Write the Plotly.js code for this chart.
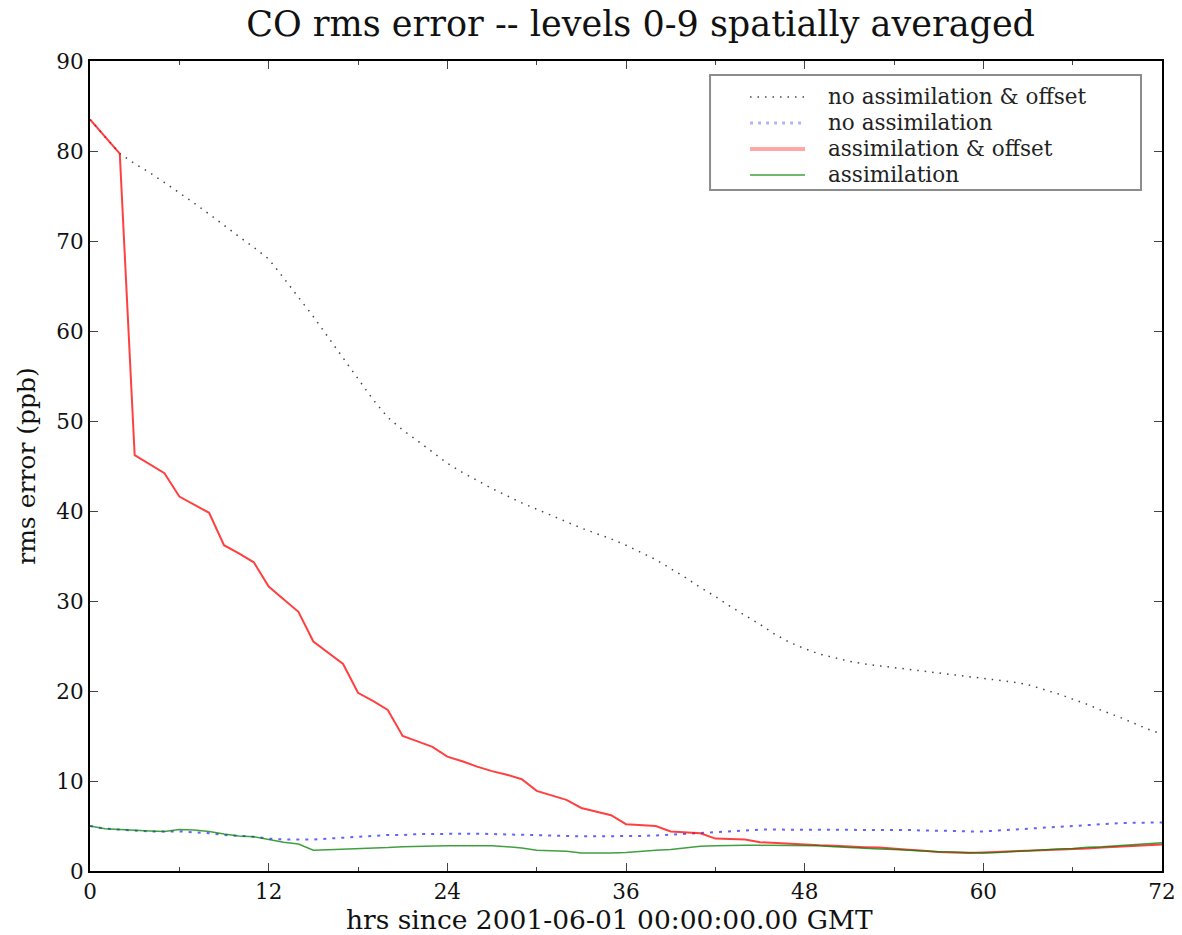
<!DOCTYPE html>
<html>
<head>
<meta charset="utf-8">
<script src="https://cdn.plot.ly/plotly-3.0.1.min.js"></script>
<style>html,body{margin:0;padding:0;background:#fff;}#chart{width:1182px;height:935px;}</style>
</head>
<body>
<div id="chart"></div>
<script>
const hours = Array.from({length: 73}, (_, i) => i);

const noAssimOffset = [83.5,81.6,79.7,78.6,77.6,76.5,75.4,74.2,73.0,71.7,70.5,69.3,68.0,65.9,63.8,61.6,59.3,57.0,54.7,52.4,50.4,49.0,47.8,46.5,45.3,44.3,43.4,42.5,41.7,40.9,40.2,39.5,38.8,38.1,37.5,36.9,36.2,35.4,34.6,33.6,32.6,31.5,30.5,29.4,28.4,27.4,26.3,25.4,24.7,24.1,23.7,23.3,23.0,22.8,22.6,22.4,22.2,22.0,21.8,21.6,21.4,21.2,21.0,20.7,20.2,19.7,19.1,18.5,17.8,17.2,16.5,15.8,15.2];

const noAssim = [5.0,4.7,4.6,4.5,4.4,4.4,4.4,4.3,4.2,4.0,3.9,3.8,3.6,3.5,3.5,3.5,3.6,3.7,3.8,3.9,4.0,4.0,4.1,4.1,4.15,4.15,4.15,4.1,4.1,4.0,4.0,3.95,3.9,3.85,3.85,3.85,3.85,3.9,3.95,4.05,4.15,4.25,4.35,4.45,4.55,4.6,4.6,4.6,4.6,4.6,4.6,4.6,4.6,4.6,4.6,4.55,4.5,4.5,4.45,4.4,4.4,4.5,4.6,4.7,4.85,4.95,5.05,5.15,5.2,5.3,5.35,5.4,5.4];

const assimOffset = [83.5,81.6,79.7,46.2,45.2,44.2,41.6,40.7,39.8,36.2,35.3,34.3,31.6,30.2,28.8,25.5,24.3,23.0,19.8,18.9,17.9,15.0,14.4,13.8,12.7,12.2,11.6,11.1,10.7,10.2,8.9,8.4,7.9,7.0,6.6,6.2,5.2,5.1,5.0,4.4,4.3,4.2,3.6,3.55,3.5,3.2,3.1,3.0,2.9,2.85,2.8,2.7,2.65,2.6,2.45,2.35,2.25,2.1,2.05,2.0,2.05,2.15,2.2,2.25,2.3,2.35,2.4,2.5,2.6,2.7,2.75,2.85,2.95];

const assim = [5.0,4.7,4.6,4.5,4.45,4.4,4.6,4.55,4.4,4.1,3.9,3.8,3.5,3.2,3.0,2.3,2.35,2.4,2.45,2.55,2.6,2.7,2.75,2.8,2.8,2.8,2.8,2.8,2.7,2.55,2.3,2.25,2.2,2.0,1.98,2.0,2.05,2.2,2.3,2.4,2.6,2.75,2.8,2.85,2.85,2.85,2.85,2.85,2.85,2.8,2.7,2.6,2.55,2.45,2.4,2.3,2.25,2.15,2.1,2.05,2.0,2.05,2.15,2.3,2.4,2.45,2.5,2.65,2.7,2.8,2.9,3.0,3.15];

const seriesNames = ['no assimilation & offset', 'no assimilation', 'assimilation & offset', 'assimilation'];
const xTicks = [0,12,24,36,48,60,72];
const yTicks = [0,10,20,30,40,50,60,70,80,90];
const xTitle = 'hrs since 2001-06-01 00:00:00.00 GMT';

const serif = '"DejaVu Serif", serif';

const styles = [
  {color: '#444444', width: 1.5, dash: '1.5px,6px'},
  {color: 'rgba(70,70,255,0.85)', width: 2, dash: '3px,6px'},
  {color: 'rgba(255,0,0,0.75)', width: 2},
  {color: 'rgba(0,128,0,0.75)', width: 1.5}
];
const legendStyles = [
  {color: '#444444', width: 1.5, dash: '1.5px,6px'},
  {color: 'rgba(90,90,255,0.45)', width: 3, dash: '3px,5px'},
  {color: 'rgba(255,0,0,0.35)', width: 4},
  {color: 'rgba(0,128,0,0.75)', width: 1.5}
];
const seriesY = [noAssimOffset, noAssim, assimOffset, assim];

const traces = seriesY.map((ys, i) => ({
  x: hours, y: ys, mode: 'lines', name: seriesNames[i], line: styles[i], showlegend: false
}));

// manual legend (paper coordinates)
const legBox = {x0: 0.5784, x1: 0.9804, y0: 0.8407, y1: 0.9827};
const legRows = [0.9556, 0.9235, 0.8914, 0.8593];
const shapes = [{type: 'rect', xref: 'paper', yref: 'paper', x0: legBox.x0, x1: legBox.x1, y0: legBox.y0, y1: legBox.y1,
                 line: {color: '#8c8c8c', width: 2}, fillcolor: '#fff', layer: 'above'}];
const annotations = [];
legRows.forEach((ry, i) => {
  shapes.push({type: 'line', xref: 'paper', yref: 'paper', x0: 0.6157, x1: 0.6670, y0: ry, y1: ry,
               line: legendStyles[i], layer: 'above'});
  annotations.push({xref: 'paper', yref: 'paper', x: 0.6875, y: ry, xanchor: 'left', yanchor: 'middle',
                    text: seriesNames[i].replace('&', '&amp;'), showarrow: false, borderpad: 0,
                    font: {family: serif, size: 21.5, color: '#222'}});
});
annotations.push({xref: 'paper', yref: 'paper', x: 0.485, y: -0.0395, xanchor: 'center', yanchor: 'top',
                  text: xTitle, showarrow: false, borderpad: 0,
                  font: {family: serif, size: 26.5, color: '#111'}});

const layout = {
  width: 1182, height: 935,
  margin: {l: 90, r: 20, t: 61, b: 64},
  paper_bgcolor: '#fff', plot_bgcolor: '#fff',
  font: {family: serif, color: '#111', size: 20},
  title: {text: 'CO rms error -- levels 0-9 spatially averaged',
          font: {family: serif, size: 35, color: '#111'},
          x: 0.542, xref: 'container', xanchor: 'center', y: 0.975, yref: 'container', yanchor: 'middle'},
  xaxis: {range: [0, 72], tickvals: xTicks, ticktext: xTicks.map(String),
          showgrid: false, zeroline: false, showline: true, linecolor: '#000', linewidth: 2,
          mirror: 'ticks', ticks: 'inside', ticklen: 8, tickwidth: 1, tickcolor: '#444',
          minor: {dtick: 6, tick0: 0, ticks: 'inside', ticklen: 4, tickcolor: '#444', showgrid: false},
          tickfont: {family: serif, size: 21.5, color: '#111'}},
  yaxis: {range: [0, 90], tickvals: yTicks, ticktext: yTicks.map(String),
          showgrid: false, zeroline: false, showline: true, linecolor: '#000', linewidth: 2,
          mirror: 'ticks', ticks: 'inside', ticklen: 8, tickwidth: 1, tickcolor: '#444',
          tickfont: {family: serif, size: 21.5, color: '#111'},
          title: {text: 'rms error (ppb)', font: {family: serif, size: 25, color: '#111'}, standoff: 14}},
  shapes: shapes,
  annotations: annotations,
  showlegend: false
};

Plotly.newPlot('chart', traces, layout, {displayModeBar: false, staticPlot: true});
</script>
</body>
</html>
